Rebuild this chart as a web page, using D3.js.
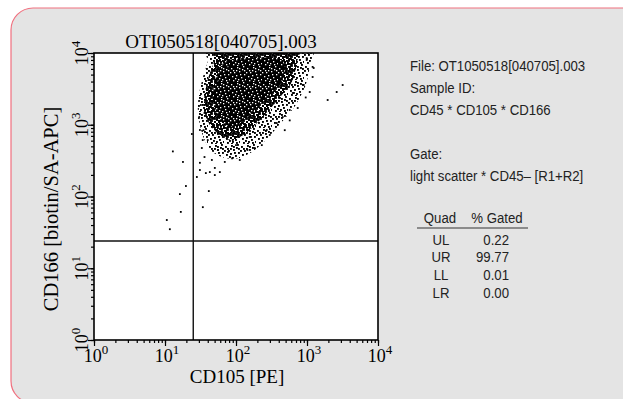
<!DOCTYPE html>
<html>
<head>
<meta charset="utf-8">
<script src="https://cdn.jsdelivr.net/npm/d3@7"></script>
<style>
  body { margin: 0; background: #fff; }
  .serif { font-family: "Liberation Serif", "Times New Roman", serif; fill: #000; }
  .narrow { font-family: "Liberation Sans", Arial, sans-serif; fill: #222; }
</style>
</head>
<body>
<svg id="chart" width="623" height="399"></svg>
<script>
// axis decades (same on both axes) and their exponent labels
const decades = [1, 10, 100, 1000, 10000];
const decadeExponents = ["0", "1", "2", "3", "4"];

// quadrant gate position [CD105, CD166]
const gateCD105 = 25;
const gateCD166 = 24;

// outlines of the dense event cloud, [CD105, CD166]
const haloOutline = [
  [47, 11700], [40, 7500], [34, 4480], [30, 2600], [29, 1600], [31, 990],
  [36, 612], [47, 417], [70, 344], [113, 344], [184, 445], [280, 654],
  [441, 1092], [693, 1890], [959, 3580], [1092, 6800], [1010, 11700]
];
const midOutline = [
  [59, 11700], [49, 7500], [40, 4200], [36, 2437], [36, 1505], [43, 990],
  [59, 720], [90, 612], [145, 792], [231, 1240], [387, 2213], [609, 3940],
  [718, 7500], [671, 11700]
];
const coreOutline = [
  [80, 8000], [59, 6180], [50, 3940], [47, 2360], [53, 1505], [66, 1050],
  [100, 960], [184, 1650], [299, 2600], [441, 4200], [486, 6600], [365, 8600]
];

// individually visible events around the cloud, [CD105, CD166]
const scatterEvents = [
  [12.9, 425], [17.9, 303], [23.9, 743], [16.2, 108], [19.7, 140], [16.7, 61],
  [10.6, 47], [11.7, 35], [41.4, 119], [34.1, 71], [31, 295], [31, 234],
  [37.6, 212], [42.8, 219], [50.3, 199], [59.2, 219], [50.3, 250], [28.1, 187],
  [36, 355], [45.7, 323], [69.5, 303], [88, 340], [113, 323], [55.5, 445],
  [77, 417], [145, 445], [184, 474], [231, 520], [100, 520], [40, 612],
  [33, 474], [35, 840], [30, 1240], [32, 1885],
  [3179, 3580], [2618, 2860], [1954, 2213], [1242, 6180], [1092, 2860],
  [740, 1711], [375, 1057], [959, 2400], [1200, 4630], [990, 7980], [900, 3580],
  [571, 1150], [486, 840], [299, 720],
  [990, 8500], [1200, 6400], [630, 2770], [571, 1605], [455, 1280], [271, 845],
  [156, 675], [90, 612], [34, 612], [31, 845], [36, 1460], [46, 2770],
  [54, 4200], [74, 6380], [90, 8790]
];

// side panel text
const infoLines = [
  "File: OT1050518[040705].003",
  "Sample ID:",
  "CD45 * CD105 * CD166",
  "",
  "Gate:",
  "light scatter * CD45\u2013 [R1+R2]"
];
const quadNames = ["UL", "UR", "LL", "LR"];
const quadGated = ["0.22", "99.77", "0.01", "0.00"];

const svg = d3.select("#chart");

// panel background
svg.append("rect")
  .attr("x", 11).attr("y", 8)
  .attr("width", 640).attr("height", 395)
  .attr("rx", 22).attr("ry", 22)
  .attr("fill", "#e4e4e4")
  .attr("stroke", "#f0707f")
  .attr("stroke-width", 1.2);

const plot = { left: 94, top: 53, width: 284, height: 287 };

const x = d3.scaleLog().domain([1, 10000]).range([plot.left, plot.left + plot.width]);
const y = d3.scaleLog().domain([1, 10000]).range([plot.top + plot.height, plot.top]);

// speckle pattern used to fake dot density
const tileDots = [
  [1, 2], [7, 1], [12, 3], [4, 6], [9, 5], [14, 8], [2, 10], [6, 9], [11, 11],
  [15, 13], [3, 14], [8, 13], [13, 0], [0, 6], [5, 12], [10, 8], [14, 4], [7, 15],
  [12, 14], [3, 4], [9, 2], [6, 4]
];
const defs = svg.append("defs");
const speck = (id, offset, color, size) => {
  const p = defs.append("pattern")
    .attr("id", id)
    .attr("width", 16).attr("height", 16)
    .attr("patternUnits", "userSpaceOnUse")
    .attr("patternTransform", `translate(${offset[0]},${offset[1]})`);
  p.selectAll("rect").data(tileDots).enter().append("rect")
    .attr("x", d => d[0]).attr("y", d => d[1])
    .attr("width", size).attr("height", size)
    .attr("fill", color);
};
const offsets = [[0, 0], [5, 7], [10, 3], [3, 11], [8, 9], [13, 5]];
offsets.forEach((o, i) => speck(`speck${i}`, o, "#000", 1.9));
speck("whiteSpeck", [6, 2], "#fff", 1.3);

defs.append("clipPath").attr("id", "plotClip")
  .append("rect")
  .attr("x", plot.left).attr("y", plot.top)
  .attr("width", plot.width).attr("height", plot.height);

// plot area
svg.append("rect")
  .attr("x", plot.left).attr("y", plot.top)
  .attr("width", plot.width).attr("height", plot.height)
  .attr("fill", "#fff");

const events = svg.append("g").attr("clip-path", "url(#plotClip)");

const area = d3.line()
  .x(d => x(d[0]))
  .y(d => y(d[1]))
  .curve(d3.curveCardinalClosed.tension(0.2));

const layers = [
  { outline: haloOutline, fills: ["url(#speck0)"] },
  { outline: midOutline, fills: ["url(#speck1)", "url(#speck2)", "url(#speck3)"] },
  { outline: coreOutline, fills: ["#000", "url(#whiteSpeck)"] }
];
layers.forEach(l => {
  l.fills.forEach(f => {
    events.append("path")
      .datum(l.outline)
      .attr("d", area)
      .attr("fill", f);
  });
});

events.selectAll(".ev")
  .data(scatterEvents)
  .enter().append("rect")
  .attr("class", "ev")
  .attr("x", d => x(d[0]) - 0.9)
  .attr("y", d => y(d[1]) - 0.9)
  .attr("width", 1.8).attr("height", 1.8)
  .attr("fill", "#000");

// quadrant gate lines
svg.append("line")
  .attr("x1", x(gateCD105)).attr("x2", x(gateCD105))
  .attr("y1", plot.top).attr("y2", plot.top + plot.height)
  .attr("stroke", "#111").attr("stroke-width", 1.4);
svg.append("line")
  .attr("x1", plot.left).attr("x2", plot.left + plot.width)
  .attr("y1", y(gateCD166)).attr("y2", y(gateCD166))
  .attr("stroke", "#111").attr("stroke-width", 1.4);

// frame
svg.append("rect")
  .attr("x", plot.left).attr("y", plot.top)
  .attr("width", plot.width).attr("height", plot.height)
  .attr("fill", "none")
  .attr("stroke", "#000").attr("stroke-width", 1.6);

// log ticks: minor and major
const allTicks = x.ticks();
const styleAxis = g => {
  g.select(".domain").remove();
  g.selectAll("line").attr("stroke", "#000").attr("stroke-width", 1.2);
};
svg.append("g")
  .attr("transform", `translate(0,${plot.top + plot.height})`)
  .call(d3.axisBottom(x).tickValues(allTicks).tickSize(3).tickFormat(""))
  .call(styleAxis);
svg.append("g")
  .attr("transform", `translate(0,${plot.top + plot.height})`)
  .call(d3.axisBottom(x).tickValues(decades).tickSize(6).tickFormat(""))
  .call(styleAxis);
svg.append("g")
  .attr("transform", `translate(${plot.left},0)`)
  .call(d3.axisLeft(y).tickValues(allTicks).tickSize(3).tickFormat(""))
  .call(styleAxis);
svg.append("g")
  .attr("transform", `translate(${plot.left},0)`)
  .call(d3.axisLeft(y).tickValues(decades).tickSize(6).tickFormat(""))
  .call(styleAxis);

// tick labels as 10^n
const addPower = (sel, i) => {
  sel.append("tspan").text("10");
  sel.append("tspan").attr("font-size", 13).attr("dy", -8).text(decadeExponents[i]);
};
decades.forEach((d, i) => {
  const t = svg.append("text")
    .attr("class", "serif")
    .attr("x", x(d) + 2).attr("y", 362)
    .attr("text-anchor", "middle")
    .attr("font-size", 18);
  addPower(t, i);
});
decades.forEach((d, i) => {
  const t = svg.append("text")
    .attr("class", "serif")
    .attr("transform", `translate(88,${y(d)}) rotate(-90)`)
    .attr("text-anchor", "middle")
    .attr("font-size", 18);
  addPower(t, i);
});

// titles
svg.append("text")
  .attr("class", "serif")
  .attr("x", 221).attr("y", 48)
  .attr("text-anchor", "middle")
  .attr("font-size", 19)
  .text("OTI050518[040705].003");
svg.append("text")
  .attr("class", "serif")
  .attr("x", 237).attr("y", 383)
  .attr("text-anchor", "middle")
  .attr("font-size", 19)
  .text("CD105 [PE]");
svg.append("text")
  .attr("class", "serif")
  .attr("transform", `translate(58,209) rotate(-90)`)
  .attr("text-anchor", "middle")
  .attr("font-size", 20.5)
  .text("CD166 [biotin/SA-APC]");

// info panel, condensed sans
const narrow = (xx, yy, txt, anchor) => {
  svg.append("text").attr("class", "narrow")
    .attr("transform", `translate(${xx},${yy}) scale(0.88,1)`)
    .attr("text-anchor", anchor)
    .attr("font-size", 15)
    .text(txt);
};
infoLines.forEach((d, i) => narrow(410, 70.5 + i * 22, d, "start"));

narrow(440, 223, "Quad", "middle");
narrow(497, 223, "% Gated", "middle");
svg.append("line")
  .attr("x1", 417).attr("x2", 528)
  .attr("y1", 228).attr("y2", 228)
  .attr("stroke", "#333").attr("stroke-width", 1);

quadNames.forEach((q, i) => {
  const yy = 244.5 + i * 17.8;
  narrow(441, yy, q, "middle");
  narrow(509, yy, quadGated[i], "end");
});
</script>
</body>
</html>
